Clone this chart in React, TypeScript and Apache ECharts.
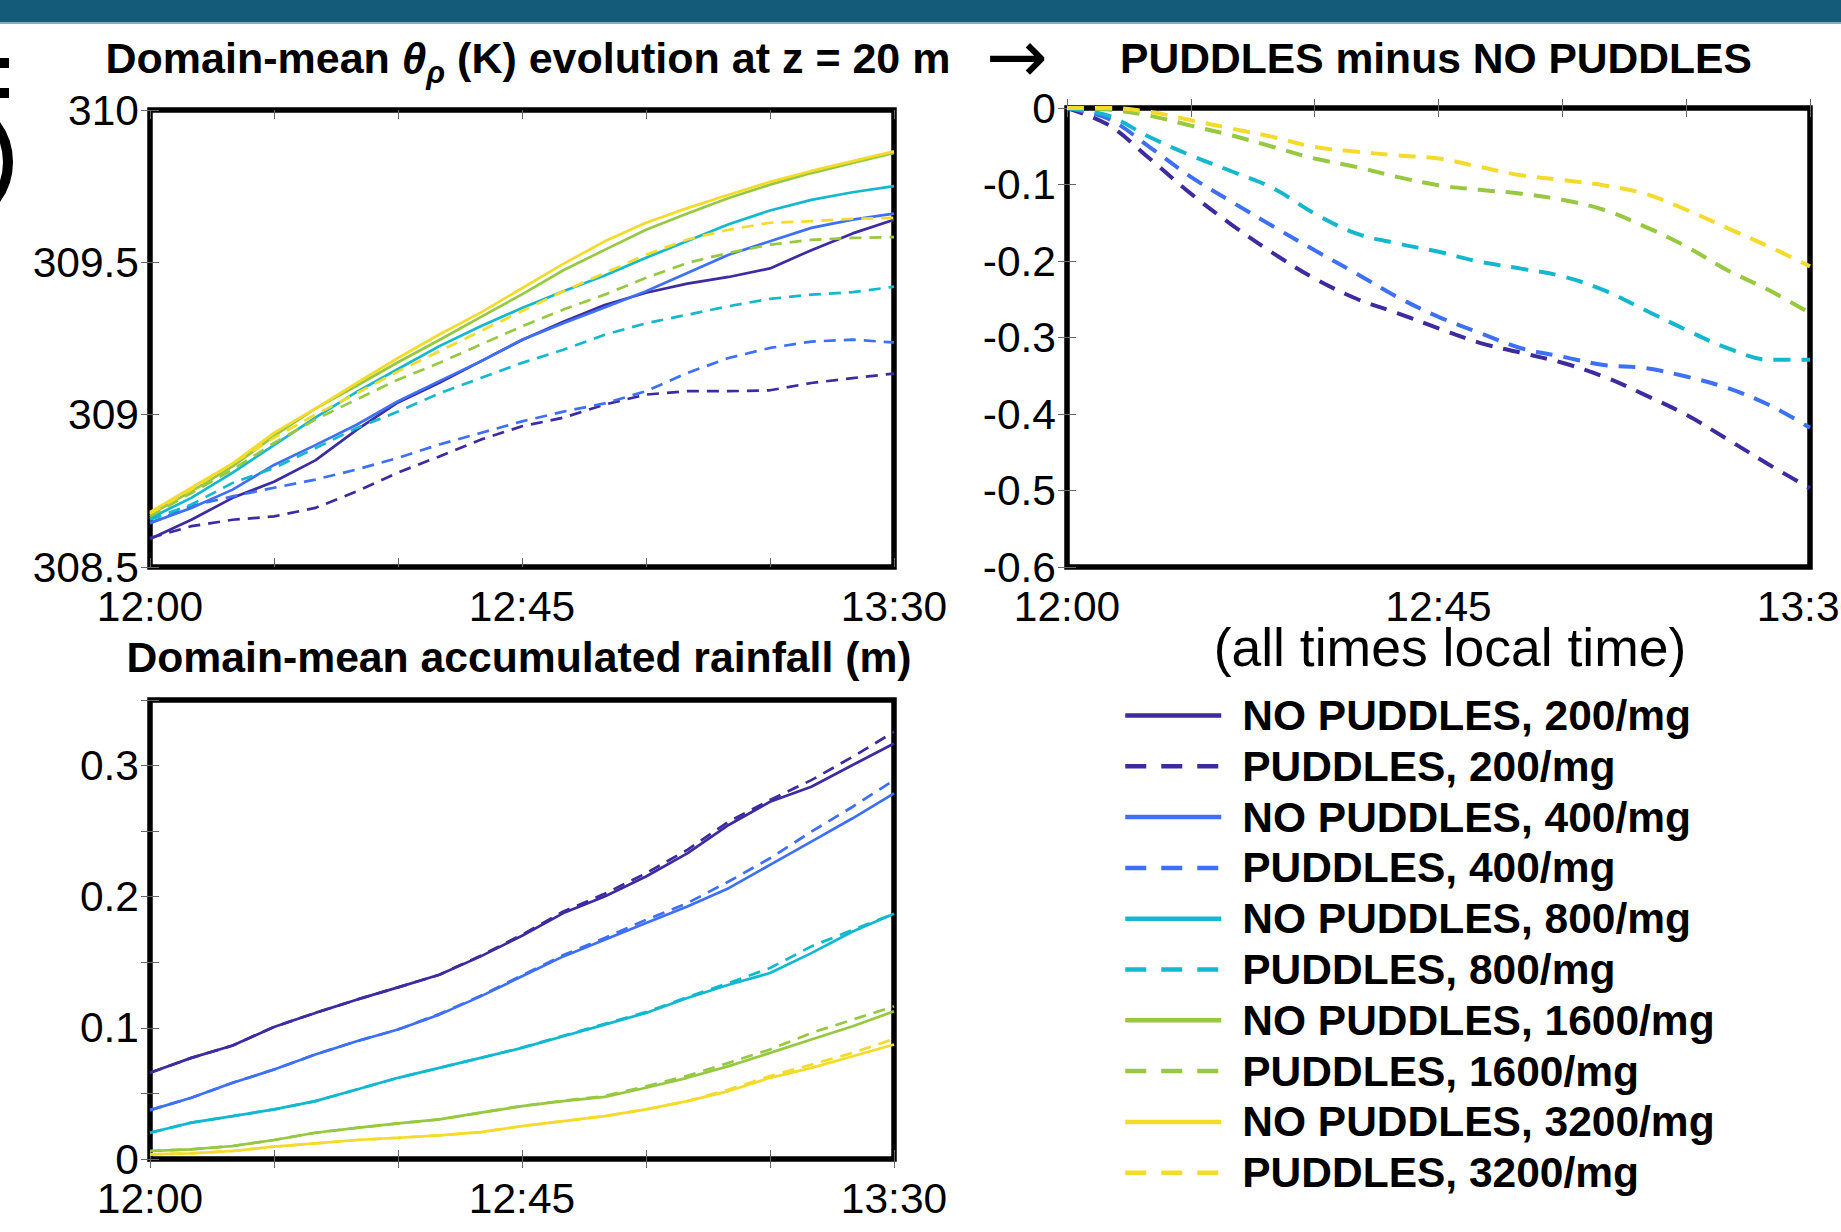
import React, { useEffect, useRef } from 'react';
import * as echarts from 'echarts';

// ---------- data ----------
const TIMES = [0, 5, 10, 15, 20, 25, 30, 35, 40, 45, 50, 55, 60, 65, 70, 75, 80, 85, 90];
const X_LABEL_MINUTES = [0, 45, 90];
const X_TICK_LABELS = ['12:00', '12:45', '13:30'];
const CONCENTRATIONS = ['200', '400', '800', '1600', '3200'];
const COLORS = ['#3E2BA0', '#3E70F5', '#14B8CE', '#97C841', '#F4DB2B'];

// Domain-mean theta_rho (K)
const THETA_NP_200 = [308.592, 308.655, 308.727, 308.78, 308.85, 308.95, 309.04, 309.105, 309.175, 309.245, 309.305, 309.36, 309.4, 309.43, 309.452, 309.48, 309.54, 309.595, 309.64];
const THETA_P_200 = [308.595, 308.634, 308.655, 308.666, 308.694, 308.748, 308.81, 308.863, 308.918, 308.962, 308.99, 309.033, 309.066, 309.077, 309.077, 309.08, 309.104, 309.12, 309.135];
const THETA_NP_400 = [308.644, 308.694, 308.754, 308.835, 308.9, 308.967, 309.044, 309.11, 309.175, 309.246, 309.3, 309.352, 309.405, 309.465, 309.525, 309.569, 309.613, 309.64, 309.66];
const THETA_P_400 = [308.644, 308.7, 308.732, 308.76, 308.787, 308.82, 308.858, 308.902, 308.94, 308.978, 309.01, 309.037, 309.077, 309.137, 309.186, 309.219, 309.24, 309.246, 309.237];
const THETA_NP_800 = [308.66, 308.727, 308.81, 308.9, 308.99, 309.075, 309.15, 309.225, 309.29, 309.35, 309.405, 309.457, 309.515, 309.57, 309.625, 309.67, 309.705, 309.73, 309.75];
const THETA_P_800 = [308.655, 308.705, 308.776, 308.825, 308.89, 308.956, 309.01, 309.07, 309.12, 309.17, 309.213, 309.262, 309.3, 309.328, 309.356, 309.38, 309.394, 309.402, 309.42];
const THETA_NP_1600 = [308.672, 308.748, 308.83, 308.93, 309.02, 309.095, 309.172, 309.245, 309.32, 309.395, 309.474, 309.541, 309.607, 309.66, 309.711, 309.755, 309.793, 309.826, 309.859];
const THETA_P_1600 = [308.666, 308.743, 308.82, 308.907, 308.984, 309.05, 309.115, 309.17, 309.23, 309.29, 309.345, 309.394, 309.449, 309.498, 309.531, 309.558, 309.574, 309.58, 309.583];
const THETA_NP_3200 = [308.68, 308.76, 308.84, 308.94, 309.02, 309.104, 309.186, 309.263, 309.335, 309.415, 309.495, 309.569, 309.63, 309.678, 309.722, 309.764, 309.8, 309.832, 309.864];
const THETA_P_3200 = [308.675, 308.754, 308.84, 308.924, 309.0, 309.07, 309.142, 309.208, 309.274, 309.34, 309.405, 309.465, 309.525, 309.575, 309.607, 309.63, 309.635, 309.643, 309.646];

// PUDDLES minus NO PUDDLES (K)
const DIFF_200 = [0, -0.022, -0.066, -0.112, -0.153, -0.19, -0.223, -0.249, -0.268, -0.288, -0.307, -0.32, -0.333, -0.351, -0.375, -0.401, -0.433, -0.466, -0.497];
const DIFF_400 = [0, -0.014, -0.051, -0.09, -0.123, -0.155, -0.186, -0.216, -0.247, -0.273, -0.294, -0.314, -0.325, -0.336, -0.34, -0.351, -0.366, -0.388, -0.418];
const DIFF_800 = [0, -0.01, -0.038, -0.062, -0.083, -0.105, -0.138, -0.164, -0.177, -0.188, -0.201, -0.21, -0.22, -0.238, -0.264, -0.29, -0.314, -0.329, -0.329];
const DIFF_1600 = [0, -0.002, -0.01, -0.023, -0.036, -0.051, -0.066, -0.077, -0.09, -0.101, -0.107, -0.112, -0.12, -0.133, -0.155, -0.181, -0.212, -0.238, -0.268];
const DIFF_3200 = [0, 0, -0.005, -0.016, -0.027, -0.038, -0.051, -0.057, -0.062, -0.066, -0.077, -0.088, -0.094, -0.101, -0.112, -0.133, -0.157, -0.181, -0.207];

// Domain-mean accumulated rainfall (m)
const RAIN_NP_200 = [0.0657, 0.0771, 0.0865, 0.1007, 0.1114, 0.1215, 0.1309, 0.1405, 0.1545, 0.1702, 0.1875, 0.2002, 0.2154, 0.2331, 0.2547, 0.2724, 0.2839, 0.3004, 0.3168];
const RAIN_P_200 = [0.0657, 0.0771, 0.0865, 0.1007, 0.1114, 0.1215, 0.1309, 0.1405, 0.155, 0.171, 0.1887, 0.2022, 0.2179, 0.2357, 0.2572, 0.2737, 0.2889, 0.3067, 0.3257];
const RAIN_NP_400 = [0.0373, 0.0467, 0.0581, 0.0682, 0.0797, 0.0898, 0.0987, 0.1101, 0.124, 0.1393, 0.1545, 0.1672, 0.1799, 0.1925, 0.2065, 0.2243, 0.242, 0.2598, 0.2788];
const RAIN_P_400 = [0.0373, 0.0467, 0.0581, 0.0682, 0.0797, 0.0898, 0.0987, 0.1105, 0.1245, 0.14, 0.1555, 0.1685, 0.1824, 0.1951, 0.2116, 0.2293, 0.2496, 0.2686, 0.2889];
const RAIN_NP_800 = [0.02, 0.0277, 0.0327, 0.0378, 0.0441, 0.053, 0.0619, 0.0695, 0.0771, 0.0847, 0.0936, 0.1025, 0.1114, 0.1228, 0.1329, 0.1418, 0.157, 0.1735, 0.187];
const RAIN_P_800 = [0.02, 0.0277, 0.0327, 0.0378, 0.0441, 0.053, 0.0619, 0.0695, 0.0771, 0.085, 0.094, 0.103, 0.112, 0.1235, 0.1342, 0.1456, 0.1621, 0.1748, 0.187];
const RAIN_NP_1600 = [0.0061, 0.0074, 0.0099, 0.0145, 0.02, 0.0238, 0.0271, 0.0302, 0.0353, 0.0403, 0.0441, 0.0474, 0.0543, 0.0619, 0.0708, 0.0809, 0.0911, 0.1012, 0.1126];
const RAIN_P_1600 = [0.0061, 0.0074, 0.0099, 0.0145, 0.02, 0.0238, 0.0271, 0.0302, 0.0353, 0.0405, 0.0445, 0.048, 0.0555, 0.0635, 0.0733, 0.0835, 0.0961, 0.1063, 0.1164];
const RAIN_NP_3200 = [0.0036, 0.0043, 0.0061, 0.0094, 0.0119, 0.0145, 0.0162, 0.018, 0.0205, 0.0251, 0.0289, 0.0327, 0.0378, 0.0441, 0.0518, 0.0619, 0.0695, 0.0784, 0.0873];
const RAIN_P_3200 = [0.0036, 0.0043, 0.0061, 0.0094, 0.0119, 0.0145, 0.0162, 0.018, 0.0205, 0.0251, 0.0289, 0.0327, 0.0378, 0.0441, 0.053, 0.0632, 0.072, 0.0809, 0.0916];

const THETA_NP = [THETA_NP_200, THETA_NP_400, THETA_NP_800, THETA_NP_1600, THETA_NP_3200];
const THETA_P = [THETA_P_200, THETA_P_400, THETA_P_800, THETA_P_1600, THETA_P_3200];
const DIFF = [DIFF_200, DIFF_400, DIFF_800, DIFF_1600, DIFF_3200];
const RAIN_NP = [RAIN_NP_200, RAIN_NP_400, RAIN_NP_800, RAIN_NP_1600, RAIN_NP_3200];
const RAIN_P = [RAIN_P_200, RAIN_P_400, RAIN_P_800, RAIN_P_1600, RAIN_P_3200];

// ---------- styling ----------
const FONT = "'Liberation Sans', Arial, Helvetica, sans-serif";
const TICK_FONT = 42.5;

const npName = (c: string) => `NO PUDDLES, ${c}/mg`;
const pName = (c: string) => `PUDDLES, ${c}/mg`;

const pairs = (vals: number[]) => TIMES.map((t, i) => [t, vals[i]]);

function xAxes(gridIndex: number, margin: number) {
  const common: any = {
    type: 'value',
    gridIndex,
    min: 0,
    max: 90,
    interval: 15,
    axisLine: { show: false },
    splitLine: { show: false },
    axisTick: { show: true, inside: true, length: 9, lineStyle: { color: '#666', width: 1 } },
  };
  return [
    {
      ...common,
      position: 'bottom',
      axisLabel: {
        show: true,
        margin,
        fontSize: TICK_FONT,
        fontFamily: FONT,
        color: '#000',
        hideOverlap: false,
        formatter: (v: number) => {
          const k = X_LABEL_MINUTES.indexOf(Math.round(v));
          return k >= 0 ? X_TICK_LABELS[k] : '';
        },
      },
    },
    { ...common, position: 'top', axisLabel: { show: false } },
  ];
}

function yAxes(gridIndex: number, min: number, max: number, interval: number, formatter?: (v: number) => string) {
  const common: any = {
    type: 'value',
    gridIndex,
    min,
    max,
    interval,
    axisLine: { show: false },
    splitLine: { show: false },
    axisTick: { show: true, inside: true, length: 9, lineStyle: { color: '#666', width: 1 } },
  };
  const label: any = { show: true, margin: 11, fontSize: TICK_FONT, fontFamily: FONT, color: '#000' };
  if (formatter) label.formatter = formatter;
  return [
    { ...common, position: 'left', axisLabel: label },
    { ...common, position: 'right', axisLabel: { show: false } },
  ];
}

function lineSeries(name: string, vals: number[], axisIdx: number, color: string, dashed: boolean, width: number, dash: number[], smooth = false) {
  return {
    type: 'line',
    name,
    xAxisIndex: axisIdx,
    yAxisIndex: axisIdx,
    data: pairs(vals),
    symbol: 'none',
    smooth: smooth ? 0.35 : false,
    lineStyle: { color, width, type: dashed ? dash : 'solid' },
    itemStyle: { color },
    emphasis: { disabled: true },
  };
}

const App: React.FC = () => {
  const ref = useRef<HTMLDivElement>(null);

  useEffect(() => {
    if (!ref.current) return;
    const chart = echarts.init(ref.current, undefined, { renderer: 'svg' });

    const series: any[] = [];
    CONCENTRATIONS.forEach((c, i) => {
      series.push(lineSeries(npName(c), THETA_NP[i], 0, COLORS[i], false, 2.7, [12, 8]));
      series.push(lineSeries(pName(c), THETA_P[i], 0, COLORS[i], true, 2.7, [12, 8]));
    });
    CONCENTRATIONS.forEach((c, i) => {
      series.push(lineSeries(pName(c), DIFF[i], 2, COLORS[i], true, 4, [17, 11], true));
    });
    CONCENTRATIONS.forEach((c, i) => {
      series.push(lineSeries(npName(c), RAIN_NP[i], 4, COLORS[i], false, 2.7, [12, 8]));
      series.push(lineSeries(pName(c), RAIN_P[i], 4, COLORS[i], true, 2.7, [12, 8]));
    });

    const legendData: any[] = [];
    CONCENTRATIONS.forEach((c) => {
      legendData.push({ name: npName(c), lineStyle: { width: 4.5, type: 'solid' }, itemStyle: { opacity: 0 } });
      legendData.push({ name: pName(c), lineStyle: { width: 4.5, type: [21, 15] }, itemStyle: { opacity: 0 } });
    });

    const gridCommon = {
      show: true,
      borderColor: '#000',
      borderWidth: 5.5,
      backgroundColor: 'transparent',
      containLabel: false,
      outerBoundsMode: 'none',
    };

    const option: any = {
      animation: false,
      backgroundColor: '#fff',
      grid: [
        { ...gridCommon, left: 150, top: 110, width: 744, height: 457 },
        { ...gridCommon, left: 1067, top: 108, width: 743, height: 459 },
        { ...gridCommon, left: 150, top: 700, width: 744, height: 459 },
      ],
      xAxis: [...xAxes(0, 18), ...xAxes(1, 18), ...xAxes(2, 18)],
      yAxis: [
        ...yAxes(0, 308.5, 310, 0.5),
        ...yAxes(1, -0.6, 0, 0.1),
        ...yAxes(2, 0, 0.35, 0.05, (v: number) =>
          Math.abs(v * 10 - Math.round(v * 10)) < 1e-6 ? String(Math.round(v * 10) / 10) : ''
        ),
      ],
      legend: {
        orient: 'vertical',
        left: 1123,
        top: 694,
        padding: 0,
        itemWidth: 96,
        itemHeight: 20,
        itemGap: 7.8,
        selectedMode: false,
        itemStyle: { opacity: 0 },
        lineStyle: { width: 4.5 },
        textStyle: {
          fontSize: 42.5,
          fontWeight: 'bold',
          fontFamily: FONT,
          color: '#000',
          lineHeight: 42,
          padding: [0, 0, 0, 16],
        },
        data: legendData,
      },
      series,
      graphic: [
        { type: 'rect', shape: { x: 0, y: 0, width: 1841, height: 22 }, style: { fill: '#135B79' }, silent: true },
        { type: 'rect', shape: { x: 0, y: 22, width: 1841, height: 2 }, style: { fill: '#86AEBE' }, silent: true },
        { type: 'rect', shape: { x: 0, y: 58, width: 9, height: 10 }, style: { fill: '#000' }, silent: true },
        { type: 'rect', shape: { x: 0, y: 88, width: 9, height: 10 }, style: { fill: '#000' }, silent: true },
        {
          type: 'arc',
          shape: { cx: -55, cy: 162, r: 63, startAngle: -0.75, endAngle: 0.75, clockwise: true },
          style: { stroke: '#000', lineWidth: 10, fill: 'none' },
          silent: true,
        },
        {
          type: 'text',
          silent: true,
          style: {
            text: 'Domain-mean {th|θ}{rho|ρ} (K) evolution at z = 20 m',
            x: 528,
            y: 58,
            align: 'center',
            verticalAlign: 'middle',
            fontSize: 43,
            fontWeight: 'bold',
            fontFamily: FONT,
            fill: '#000',
            rich: {
              th: { fontSize: 44, fontStyle: 'italic', fontWeight: 'bold', fontFamily: FONT, fill: '#000' },
              rho: { fontSize: 31, fontStyle: 'italic', fontWeight: 'bold', fontFamily: FONT, fill: '#000', padding: [28, 0, 0, 0] },
            },
          },
        },
        {
          type: 'text',
          silent: true,
          style: {
            text: '→',
            x: 1017,
            y: 56,
            align: 'center',
            verticalAlign: 'middle',
            fontSize: 74,
            fontFamily: "'DejaVu Sans', sans-serif",
            fill: '#000',
          },
        },
        {
          type: 'text',
          silent: true,
          style: {
            text: 'PUDDLES minus NO PUDDLES',
            x: 1436,
            y: 58,
            align: 'center',
            verticalAlign: 'middle',
            fontSize: 42.6,
            fontWeight: 'bold',
            fontFamily: FONT,
            fill: '#000',
          },
        },
        {
          type: 'text',
          silent: true,
          style: {
            text: 'Domain-mean accumulated rainfall (m)',
            x: 519,
            y: 657,
            align: 'center',
            verticalAlign: 'middle',
            fontSize: 42.7,
            fontWeight: 'bold',
            fontFamily: FONT,
            fill: '#000',
          },
        },
        {
          type: 'text',
          silent: true,
          style: {
            text: '(all times local time)',
            x: 1450,
            y: 647,
            align: 'center',
            verticalAlign: 'middle',
            fontSize: 53.5,
            fontFamily: FONT,
            fill: '#000',
          },
        },
      ],
    };

    chart.setOption(option);
    return () => {
      chart.dispose();
    };
  }, []);

  return (
    <div
      ref={ref}
      style={{ position: 'fixed', left: 0, top: 0, width: 1841, height: 1232, background: '#fff' }}
    />
  );
};

export default App;
